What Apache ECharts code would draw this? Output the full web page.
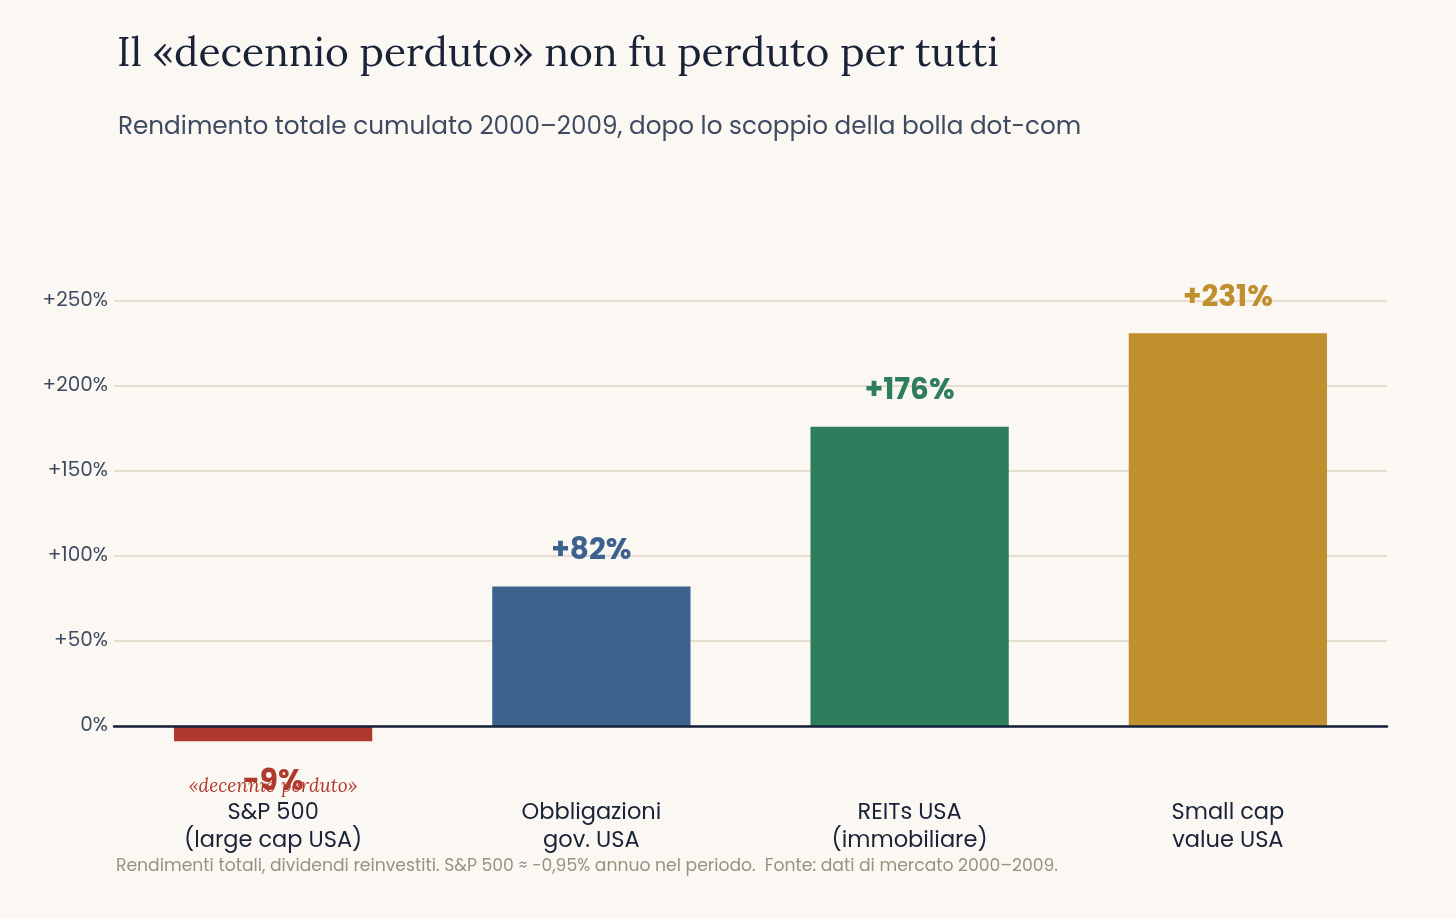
<!DOCTYPE html>
<html>
<head>
<meta charset="utf-8">
<script src="https://cdn.jsdelivr.net/npm/echarts@6/dist/echarts.min.js"></script>
<style>
  html, body { margin: 0; padding: 0; background: #fbf8f3; }
  #main { width: 1456px; height: 918px; }
</style>
</head>
<body>
<div id="main"></div>
<script>
// dati: rendimento totale cumulato 2000-2009
const categories = ['S&P 500\n(large cap USA)', 'Obbligazioni\ngov. USA', 'REITs USA\n(immobiliare)', 'Small cap\nvalue USA'];
const values = [-9, 82, 176, 231];
const barColors = ['#b0392e', '#3d628e', '#2e7d5c', '#c08f2e'];
const yTicks = [0, 50, 100, 150, 200, 250];

const sans = '"Poppins", "Open Sans", "Noto Sans", sans-serif';
const serif = '"Lora", "Liberation Serif", serif';

function pct(v) {
    if (v === 0) return '0%';
    return (v > 0 ? '+' : '-') + Math.abs(v) + '%';
}

const chart = echarts.init(document.getElementById('main'));

chart.setOption({
    backgroundColor: '#fbf8f3',
    animation: false,
    title: [{
        text: 'Il «decennio perduto» non fu perduto per tutti',
        left: 112, top: 29,
        textStyle: { fontFamily: serif, fontSize: 40.8, fontWeight: 'normal', color: '#1a2238' }
    }, {
        text: 'Rendimento totale cumulato 2000–2009, dopo lo scoppio della bolla dot-com',
        left: 113, top: 110,
        textStyle: { fontFamily: sans, fontSize: 24.7, fontWeight: 'normal', color: '#3d4a60' }
    }],
    graphic: [{
        type: 'text',
        left: 116, top: 858,
        style: {
            text: 'Rendimenti totali, dividendi reinvestiti. S&P 500 ≈ −0,95% annuo nel periodo.  Fonte: dati di mercato 2000–2009.',
            font: '17.2px ' + sans,
            fill: '#9a9080'
        }
    }],
    grid: { left: 114, right: 69, top: 301, bottom: 107, outerBoundsMode: 'none' },
    xAxis: {
        type: 'category',
        data: categories,
        axisLine: { onZero: true, lineStyle: { color: '#14213d', width: 2.5 } },
        axisTick: { show: false },
        axisLabel: {
            margin: -12,
            fontFamily: sans, fontSize: 22.5, color: '#1a2238', lineHeight: 28
        },
        z: 10
    },
    yAxis: {
        type: 'value',
        min: -50, max: 250, interval: 50,
        axisLine: { show: false },
        axisTick: { show: false },
        axisLabel: {
            showMinLabel: false,
            margin: 6,
            fontFamily: sans, fontSize: 20, color: '#3d4a60',
            formatter: v => yTicks.indexOf(v) >= 0 ? pct(v) : ''
        },
        splitLine: { showMinLine: false, lineStyle: { color: '#e6ddd0', width: 2 } }
    },
    series: [{
        type: 'bar',
        barWidth: '62.3%',
        data: values.map((v, i) => ({
            value: v,
            itemStyle: { color: barColors[i] },
            label: {
                position: v < 0 ? 'bottom' : 'top',
                distance: v < 0 ? 26 : 20,
                color: barColors[i]
            }
        })),
        label: {
            show: true,
            fontFamily: sans, fontSize: 29.5, fontWeight: 'bold',
            formatter: p => pct(p.value)
        },
        markPoint: {
            symbol: 'circle',
            symbolSize: 1,
            itemStyle: { color: 'rgba(0,0,0,0)' },
            data: [{
                coord: [0, values[0]],
                label: {
                    show: true,
                    position: 'inside',
                    offset: [0, 45],
                    formatter: '«decennio perduto»',
                    fontFamily: serif, fontStyle: 'italic', fontSize: 19,
                    color: '#b0392e'
                }
            }]
        }
    }]
});
</script>
</body>
</html>
